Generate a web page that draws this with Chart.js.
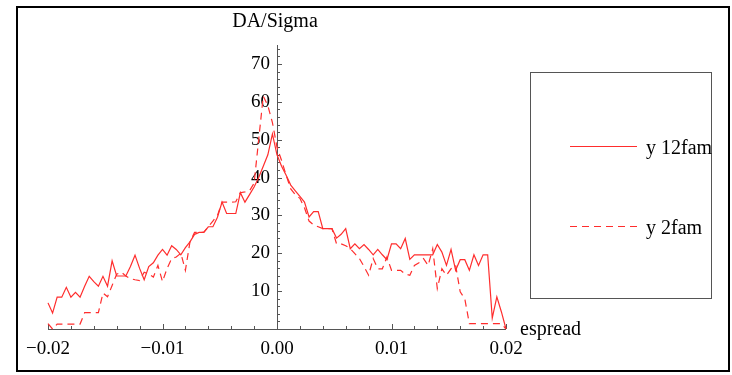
<!DOCTYPE html>
<html>
<head>
<meta charset="utf-8">
<script src="https://cdn.jsdelivr.net/npm/chart.js@4"></script>
<style>
  html, body { margin: 0; padding: 0; background: #fff; }
  canvas { display: block; }
</style>
</head>
<body>
<canvas id="da-chart" width="732" height="375"></canvas>
<script>
// DA/Sigma versus energy spread, two lattice families.
// Sample grid: -0.02 .. 0.02 in steps of 0.0004 (101 points).
const espread = [];
for (let i = 0; i <= 100; i++) espread.push(+(-0.02 + i * 0.0004).toFixed(4));

const y12fam = [
  6.9, 4.2, 8.4, 8.4, 11, 8.4, 9.7, 8.4, 11.3, 13.9,
  12.5, 11.3, 13.9, 11.3, 18, 14, 14, 14, 16.5, 19.5,
  16, 13, 16.5, 17.5, 19.5, 21, 19.5, 22, 21, 19.6,
  21.5, 23, 25, 25.5, 25.5, 27, 27, 29.5, 33.5, 30.5,
  30.5, 30.5, 36, 33.5, 35.5, 37.5, 40, 43, 46, 51.5,
  46, 43, 40.6, 38, 36.5, 35, 33.5, 29.6, 31, 31,
  26.5, 26.5, 26.5, 24, 25, 26.5, 21.2, 22.5, 21.2, 22.3,
  21, 19.6, 21, 19.6, 18.3, 22.5, 22.5, 21.2, 23.9, 18.4,
  19.6, 19.6, 19.6, 19.6, 19.6, 22.3, 20.3, 16.8, 21, 15.5,
  18.3, 18.3, 15.5, 19.6, 16.8, 19.6, 19.6, 2.9, 8.5, 4.5,
  0
];

const y2fam = [
  1.4, 0, 1.3, 1.3, 1.3, 1.3, 1.3, 1.3, 4.3, 4.3,
  4.3, 4.3, 9.5, 8.5, 11.5, 14.5, 15, 14, 13.3, 13,
  12.8, 15, 14.5, 13.7, 16.8, 12.5, 16, 18.6, 19, 20,
  15.5, 23, 25.5, 25.5, 25.5, 27, 28.5, 30, 33.5, 33.5,
  33.5, 33.6, 36, 36.2, 36.5, 38.5, 50, 61.5, 59, 54.5,
  48, 44.5, 40.6, 37, 35.5, 34.5, 32, 28.5, 27.5, 27,
  26.5, 26.5, 26.5, 22.5, 22.5, 22, 21.2, 19.9, 18.6, 16.5,
  14.2, 18.6, 15.9, 15.9, 19, 15.5, 15.5, 15.5, 14.5, 14.2,
  16.8, 17.5, 18.6, 16.8, 21.2, 10.7, 15.9, 14.2, 15.9, 16.8,
  9.8, 8, 1.4, 1.4, 1.4, 1.4, 1.4, 1.4, 1.4, 1.4,
  0
];

const xMajorTicks = [-0.02, -0.01, 0, 0.01, 0.02];
const xTickLabels = ["\u22120.02", "\u22120.01", "0.00", "0.01", "0.02"];
const yMajorTicks = [10, 20, 30, 40, 50, 60, 70];
const seriesNames = ["y 12fam", "y 2fam"];

const RED   = "rgb(255, 45, 45)";
const DASH  = [7, 5];
const SERIF = "'Liberation Serif', 'Times New Roman', serif";

const toPoints = ys => espread.map((x, i) => ({ x, y: ys[i] }));

// Axes cross at the origin, Mathematica style, so they are drawn by hand
// from the chart's own scales.
const crossAxes = {
  id: "crossAxes",
  beforeDatasetsDraw(chart) {
    const { ctx, scales: { x, y } } = chart;
    const x0 = x.getPixelForValue(0);
    const y0 = y.getPixelForValue(0);
    ctx.save();
    ctx.strokeStyle = "#555";
    ctx.lineWidth = 1;

    // x axis
    ctx.beginPath();
    ctx.moveTo(x.getPixelForValue(-0.02), y0 + 0.5);
    ctx.lineTo(x.getPixelForValue(0.02), y0 + 0.5);
    ctx.stroke();
    for (let k = -10; k <= 10; k++) {
      const v = k * 0.002;
      const px = Math.round(x.getPixelForValue(v)) + 0.5;
      const len = k % 5 === 0 ? 5 : 3;
      ctx.beginPath();
      ctx.moveTo(px, y0);
      ctx.lineTo(px, y0 - len);
      ctx.stroke();
    }

    // y axis
    ctx.beginPath();
    ctx.moveTo(Math.round(x0) + 0.5, y0);
    ctx.lineTo(Math.round(x0) + 0.5, y.getPixelForValue(75));
    ctx.stroke();
    for (let v = 2; v <= 74; v += 2) {
      const py = Math.round(y.getPixelForValue(v)) + 0.5;
      const len = v % 10 === 0 ? 5 : 3;
      ctx.beginPath();
      ctx.moveTo(x0, py);
      ctx.lineTo(x0 + len, py);
      ctx.stroke();
    }

    // tick labels
    ctx.fillStyle = "#000";
    ctx.font = "19px " + SERIF;
    ctx.textBaseline = "middle";
    ctx.textAlign = "center";
    xMajorTicks.forEach((v, i) => {
      ctx.fillText(xTickLabels[i], x.getPixelForValue(v), y0 + 20);
    });
    ctx.textAlign = "right";
    yMajorTicks.forEach(v => {
      ctx.fillText(String(v), x0 - 7, y.getPixelForValue(v));
    });

    // axis titles
    ctx.font = "20px " + SERIF;
    ctx.textAlign = "center";
    ctx.fillText("DA/Sigma", x0 - 2, 22);
    ctx.textAlign = "left";
    ctx.fillText("espread", 520, y0 + 1);
    ctx.restore();
  },
  afterDraw(chart) {
    const { ctx } = chart;
    ctx.save();
    // outer frame
    ctx.strokeStyle = "#000";
    ctx.lineWidth = 2;
    ctx.strokeRect(17, 7, 712, 364);

    // legend box
    ctx.strokeStyle = "#555";
    ctx.lineWidth = 1;
    ctx.strokeRect(530.5, 72.5, 181, 226);

    const rows = [146.5, 226.5];
    ctx.strokeStyle = RED;
    ctx.lineWidth = 1.2;
    rows.forEach((ry, i) => {
      ctx.setLineDash(i === 1 ? DASH : []);
      ctx.beginPath();
      ctx.moveTo(570, ry);
      ctx.lineTo(637, ry);
      ctx.stroke();
    });
    ctx.setLineDash([]);
    ctx.fillStyle = "#000";
    ctx.font = "20px " + SERIF;
    ctx.textAlign = "left";
    ctx.textBaseline = "middle";
    rows.forEach((ry, i) => ctx.fillText(seriesNames[i], 646, ry + 2));
    ctx.restore();
  }
};

new Chart(document.getElementById("da-chart"), {
  type: "line",
  data: {
    datasets: [
      {
        label: seriesNames[0],
        data: toPoints(y12fam),
        borderColor: RED,
        borderWidth: 1.2,
        pointRadius: 0,
        tension: 0,
        fill: false
      },
      {
        label: seriesNames[1],
        data: toPoints(y2fam),
        borderColor: RED,
        borderWidth: 1.2,
        borderDash: DASH,
        pointRadius: 0,
        tension: 0,
        fill: false
      }
    ]
  },
  options: {
    responsive: false,
    animation: false,
    events: [],
    layout: { padding: { left: 48, right: 226, top: 45, bottom: 46 } },
    clip: false,
    scales: {
      x: { type: "linear", min: -0.02, max: 0.02, display: false },
      y: { type: "linear", min: 0, max: 75, display: false }
    },
    plugins: {
      legend: { display: false },
      tooltip: { enabled: false }
    }
  },
  plugins: [crossAxes]
});
</script>
</body>
</html>
